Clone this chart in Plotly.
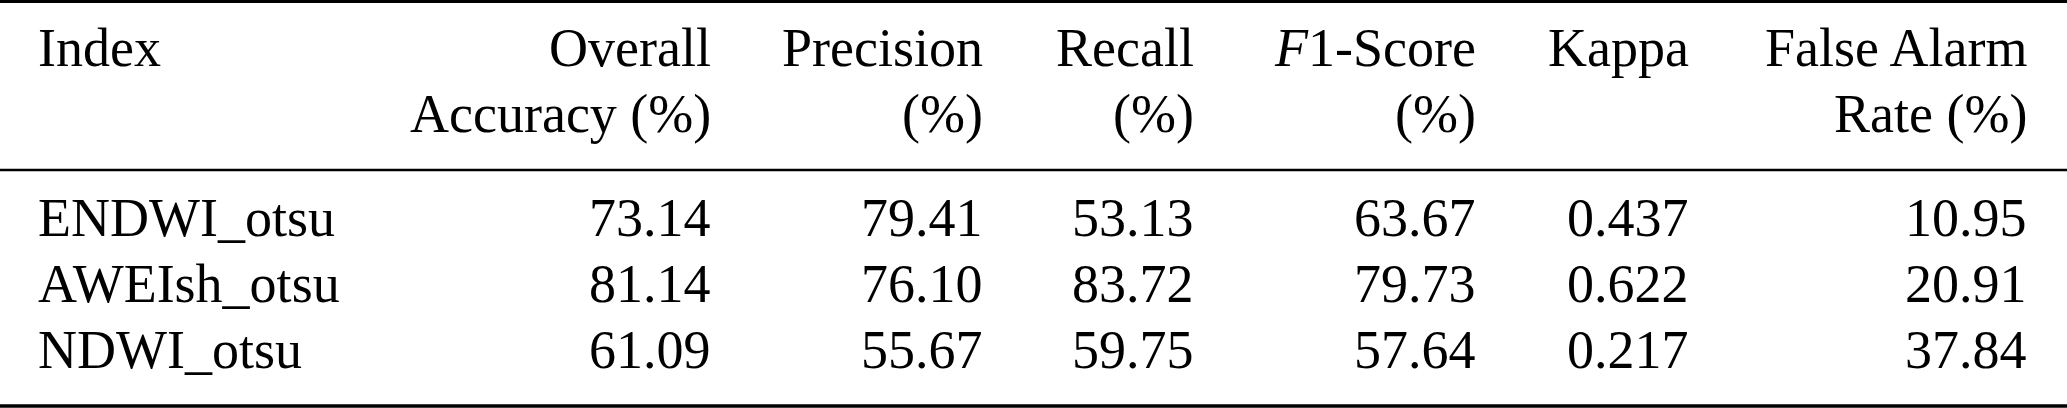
import plotly.graph_objects as go

W, H = 2067, 408
FONT = "'Liberation Serif', 'Times New Roman', Times, serif"
SIZE = 54

# table content
header_top = ["Index", "Overall", "Precision", "Recall", "<i>F</i>1-Score", "Kappa", "False Alarm"]
header_bottom = ["", "Accuracy (%)", "(%)", "(%)", "(%)", "", "Rate (%)"]
methods = ["ENDWI_otsu", "AWEIsh_otsu", "NDWI_otsu"]
overall_accuracy = ["73.14", "81.14", "61.09"]
precision = ["79.41", "76.10", "55.67"]
recall = ["53.13", "83.72", "59.75"]
f1_score = ["63.67", "79.73", "57.64"]
kappa = ["0.437", "0.622", "0.217"]
false_alarm = ["10.95", "20.91", "37.84"]

columns = [methods, overall_accuracy, precision, recall, f1_score, kappa, false_alarm]

# layout in pixel units (x: anchor of each column, first one left aligned)
col_x = [37, 712, 984, 1195, 1477, 1690, 2028]
col_anchor = ["left"] + ["right"] * 6
header_baselines = [66, 132]
row_baselines = [236, 302, 368]
rules = [(1.5, 3), (170, 2.5), (406, 3.5)]


def center_from_baseline(b):
    # text box centre sits about a third of an em above the baseline
    return b - 0.3375 * SIZE


fig = go.Figure()
fig.add_trace(go.Scatter(x=[0, W], y=[0, H], mode="markers",
                         marker=dict(opacity=0), hoverinfo="skip", showlegend=False))

annotations = []
for lines, base in zip([header_top, header_bottom], header_baselines):
    for text, x, anchor in zip(lines, col_x, col_anchor):
        if text:
            annotations.append(dict(x=x, y=center_from_baseline(base), text=text,
                                    xanchor=anchor, yanchor="middle"))

for col, x, anchor in zip(columns, col_x, col_anchor):
    for text, base in zip(col, row_baselines):
        annotations.append(dict(x=x, y=center_from_baseline(base), text=text,
                                xanchor=anchor, yanchor="middle"))

for a in annotations:
    a.update(xref="x", yref="y", showarrow=False, borderpad=0,
             font=dict(family=FONT, size=SIZE, color="black"))

shapes = [dict(type="line", xref="x", yref="y", x0=0, x1=W, y0=y, y1=y,
               line=dict(color="black", width=w)) for y, w in rules]

fig.update_layout(
    width=W, height=H,
    margin=dict(l=0, r=0, t=0, b=0),
    paper_bgcolor="white", plot_bgcolor="white",
    xaxis=dict(range=[0, W], visible=False, fixedrange=True),
    yaxis=dict(range=[H, 0], visible=False, fixedrange=True),
    annotations=annotations,
    shapes=shapes,
)

# drop the default page margin so the figure sits flush in the window
fig.write_html("out.html", config={"displayModeBar": False},
               post_script="document.body.style.margin='0';document.body.style.overflow='hidden';")
